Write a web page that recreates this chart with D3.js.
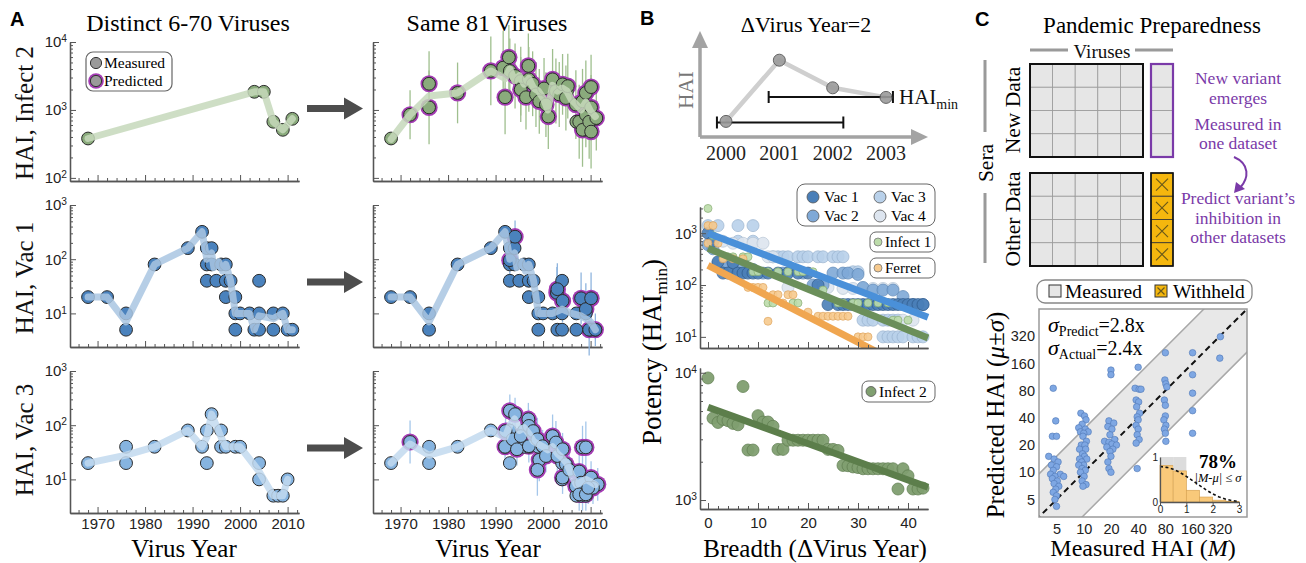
<!DOCTYPE html>
<html>
<head>
<meta charset="utf-8">
<script src="https://cdn.jsdelivr.net/npm/d3@7"></script>
<style>
  body { margin: 0; background: #fff; }
</style>
</head>
<body>
<svg id="fig" width="1306" height="563"></svg>
<script>
const SERIF = "'Liberation Serif', 'Times New Roman', serif";
const SANS = "'Liberation Sans', Arial, sans-serif";
const PURPLE = '#a43cb4';

// ---------------- panel A data: [virus year, HAI] ----------------
const yearTicks = [1970, 1980, 1990, 2000, 2010];

const infect2Distinct = [[1968,380],[2003,1850],[2005,1850],[2007,670],[2009,510],[2011,740]];
// predicted: [year, HAI, error factor]
const infect2Pred = [[1972,850,2.3],[1976,2430,3],[1976,1090,3.5],[1982,1780,2.8],[1989,3750,3.2],[1991.6,4190,3.5],
  [1992,1540,3.5],[1992.8,5940,3],[1993,3750,3],[1994.1,3160,3],[1995.3,2660,3.2],[1995.3,2000,3],[1996.4,1540,3],
  [1996.9,4450,3],[1997,2820,3],[1997.8,2430,3],[1998.5,1690,3],[1999.2,1340,3],[2000.2,2070,2.8],[2000.6,1200,3],
  [2001.1,800,3],[2002,2820,2.8],[2002.7,1900,3],[2003.4,1690,3],[2004.1,2380,2.8],[2004.8,1500,3],[2005.2,2240,3],
  [2006.9,1200,3.2],[2007.6,670,3.5],[2008.3,1340,3],[2008.3,510,3.5],[2009,1780,3],[2009,850,3],[2009.7,670,3.5],
  [2010.1,2170,3],[2010.1,1090,3],[2010.1,480,3.5],[2011.2,760,3]];
const infect2SameLine = [[1968,370],[1972,850],[1976,1600],[1982,1780],[1989,3750],[1992,2900],[1993,4000],[1994,2700],
  [1995,3200],[1996,2400],[1997,2900],[1998,2100],[1999,1900],[2000,1500],[2001,1000],[2002,2300],[2003,1900],[2004,2100],
  [2005,1900],[2006,1400],[2007,1200],[2008,1000],[2009,1300],[2010,950],[2011,800]];

const vac1Distinct = [[1968,20],[1972,20],[1976,10],[1976,5],[1982,80],[1989,160],[1992,320],[1993,160],[1994,160],
  [1993,80],[1994,80],[1996,80],[1997,80],[1993,40],[1995,40],[1997,40],[1998,40],[1997,20],[1999,20],[1999,10],
  [2000,10],[1999,5],[2002,10],[2003,5],[2004,10],[2004,40],[2004,5],[2007,10],[2007,5],[2009,10],[2010,5],[2011,5]];
const vac1DistinctLine = [[1968,20],[1972,20],[1976,7],[1982,80],[1989,160],[1992,320],[1993,100],[1994,130],[1994.5,70],
  [1995.5,90],[1996.3,60],[1997,80],[1998,40],[1999,10],[2000,10],[2002,10],[2003,5],[2004,9],[2007,8],[2009,10],[2010,5],[2011,5]];
const vac1Pred = [[1993,96,2],[1994.1,260,2],[2002.9,24,3],[2003,28,3],[2004.1,17,2.5],[2008,19,3],[2009,12,3],
  [2009.7,5,3],[2010.1,19,3],[2011,5,2]];
const vac1SameLine = [[1968,20],[1972,20],[1976,7],[1982,80],[1989,160],[1992,320],[1993,100],[1994,130],[1994.5,70],
  [1995.5,90],[1996.3,60],[1997,80],[1998,40],[1999,10],[2000,10],[2002,10],[2004,12],[2006,10],[2008,9],[2010,7],[2011,5]];

const vac3Distinct = [[1968,20],[1976,40],[1976,20],[1982,40],[1989,80],[1992,40],[1993,80],[1993,20],[1994,160],
  [1996,80],[1996,40],[1997,40],[1999,40],[2000,40],[2004,20],[2004,10],[2007,5],[2008,5],[2009,5],[2010,10]];
const vac3DistinctLine = [[1968,20],[1976,28],[1982,40],[1989,80],[1992,40],[1993,60],[1994,160],[1996,60],[1997,40],
  [2000,40],[2004,14],[2007,5],[2009,5],[2010,10]];
const vac3Pred = [[1972,49,2.5],[1992.1,78,2],[1993,184,2],[1994.1,160,2],[1992,40,2],[1993.6,55,2],[1994.5,36,2],
  [1995.3,63,2],[1996.9,129,2],[1997,97,2],[1997.9,78,2],[1997,41,2],[1998.8,55,2.5],[1999.2,23,2.5],[1998.8,15,3],
  [1999.9,41,2],[2000.6,27,2],[2002,63,2.5],[2002.7,48,2.5],[2003,27,2.5],[2004.1,36,2],[2004.1,10.8,2],[2004.8,19,2],
  [2005.5,15,2],[2006.9,7.5,2],[2007.6,14,2],[2008.3,39,2.5],[2009,39,3],[2008,8.7,2],[2008.3,5.3,2],[2007.6,5.3,2],
  [2009,5.3,2],[2010.1,10.8,2],[2011.5,8.1,2],[2010.5,7,2],[2009.5,7,2]];
const vac3SameLine = [[1968,20],[1972,45],[1976,28],[1982,40],[1989,80],[1992,60],[1993,100],[1994,130],[1995,80],
  [1996,90],[1997,70],[1998,50],[2000,40],[2001,35],[2002,40],[2003,30],[2004,25],[2005,20],[2006,12],[2007,8],
  [2009,10],[2010,9],[2011,8]];

// ---------------- panel B data: [ΔVirus Year, HAImin] ----------------
const schematicYears = [2000, 2001, 2002, 2003];
const schematicHAI = [0.8, 5.9, 3.6, 2.8];
const schematicWindows = [[1999.83, 2002.2, 0.7], [2000.8, 2003.13, 2.83]];

const vac1B = [[0,1000],[1,700],[2,280],[3,170],[4,170],[5,270],[6,170],[7,170],[8,170],[9,170],[10,170],[12,170],[14,170],
  [16,170],[18,170],[20,170],[22,100],[24,42],[26,42],[27,42],[28,42],[29,42],[30,42],[31,42],[32,42],[33,42],[34,42],
  [35,42],[36,42],[37,42],[38,42],[39,42],[40,42],[41,42],[42,42],[43,42]];
const vac2B = [[0,600],[1,500],[2,260],[3,260],[4,260],[5,200],[7,260],[9,200],[11,170],[15,170],[19,170],[21,100],[23,100],
  [25,170],[27,170],[28,170],[30,160],[31,90],[33,80],[35,80],[37,80],[39,60],[41,42],[43,42]];
const vac3B = [[0,1400],[2,1400],[6,1400],[9,1400],[6,700],[9,700],[13,350],[14,350],[15,350],[16,350],[18,350],[19,350],
  [20,350],[22,350],[23,350],[25,350],[26,350],[27,350],[29,180],[30,180],[31,21],[32,21],[33,21],[35,21],[36,21],[37,21],
  [38,21],[35,10],[36,10],[37,10],[38,10],[39,10],[41,10],[42,10],[43,10]];
const vac4B = [[1,700],[3,700],[5,640],[7,640],[9,640],[11,640],[12,350],[13,350],[16,90],[21,90],[24,90],[27,86],[29,86],
  [31,86],[33,86],[35,86],[37,86],[39,21],[41,21]];
const infect1B = [[0,3000],[1,900],[3,350],[4,350],[5,350],[7,350],[8,350],[9,180],[10,180],[12,180],[14,180],[16,180],
  [18,180],[19,180],[21,180],[12,45],[13,45],[17,45],[18,45],[23,80],[26,45],[27,45],[29,45],[30,45],[32,45],[34,45],
  [36,45],[37,21],[38,21],[40,21]];
const ferretB = [[0,1400],[1,1400],[0,640],[2,640],[3,320],[5,320],[7,320],[8,90],[9,90],[10,90],[11,90],[13,65],[14,65],
  [16,65],[17,65],[12,20],[15,45],[20,30],[22,25],[23,25],[24,25],[25,25],[26,25],[27,25],[28,25],[30,10],[31,10],[32,10]];
const infect2B = [[0,9100],[1,4400],[2,4070],[3,4300],[4,4200],[5,4000],[6,3900],[7,7800],[8,2470],[9,2470],[10,4600],
  [11,4100],[12,4100],[13,3800],[14,2500],[15,2500],[16,2950],[17,2950],[18,2950],[19,2950],[20,2950],[21,2950],[22,2950],
  [23,2950],[24,2500],[25,2500],[26,2450],[27,1870],[28,1860],[29,1820],[30,1800],[31,1760],[32,1760],[33,1760],[34,1760],
  [35,1760],[36,1760],[37,1760],[38,1220],[39,1760],[40,1550],[41,1220],[42,1220],[43,1240]];
// regression fits: [Δ start, HAI start, Δ end, HAI end]
const fitVac = [0, 1000, 44, 24];
const fitInfect1 = [0, 510, 44, 9.5];
const fitFerret = [0, 240, 44, 1.6];
const fitInfect2 = [0, 5360, 44, 1260];

// ---------------- panel C data ----------------
const hai2fold = [5, 10, 20, 40, 80, 160, 320];
const cScatter = [
  [4.6,85],[4.9,37],[4.5,25],[5.0,25],[4.1,15],[4.7,14],[5.2,13],[4.4,12],[5.0,11.5],[4.6,10.5],[5.5,9.5],[4.3,9.5],
  [4.8,9],[6.0,9],[4.5,8.5],[5.1,8],[4.7,7.5],[5.3,7],[4.9,6.5],[4.6,6],[5.0,5.5],[4.8,5],[5.0,4.2],
  [9.3,45],[10.2,42],[10.6,38],[9.6,34],[8.8,31],[10.4,30],[9.2,28],[11.2,28],[10.0,27],[9.8,25],[10.7,22],[9.4,20],
  [10.3,20],[9.0,18],[10.5,18],[9.7,16],[10.2,15],[9.0,14],[10.8,14],[9.5,13],[10.0,12],[8.8,12],[9.6,11],[10.4,10.5],
  [9.2,10],[10.1,9],[9.6,8],[10.6,7.3],[9.8,7],
  [20,135],[20,120],[19,37],[21.5,35],[18.5,32],[20.5,30],[19.5,26],[22,23],[17,22],[19,21.5],[20.5,20.5],[23,20],
  [18,19],[21,18],[19.5,17],[20,15],[18.5,13],[19,11],[20,10],
  [40,145],[37,85],[41,83],[43,83],[38,63],[40.5,60],[38.5,53],[41.5,45],[39,41],[40,38],[38,33],[40,30],[39,26],
  [41,23],[38,21],[39,11],
  [80,210],[79,105],[81,95],[83,88],[78,63],[80,55],[80,42],[77,38],[81,33],[78,30],[80,27],[81,22],
  [160,210],[160,120],[160,75],[160,48],[160,27],[325,316],[320,183]];
const bandFactor = 3;
const histEdges = [0, 0.5, 1, 1.5, 2, 2.5, 3];
const histWithin = [1, 1, 0, 0, 0, 0];
const histFrac = [0.81, 0.69, 0.26, 0.11, 0.04, 0.01];
const curveX = [0, 0.25, 0.5, 0.75, 1, 1.25, 1.5, 1.75, 2, 2.25, 2.5, 2.75, 3];
const curveY = [0.79, 0.77, 0.73, 0.66, 0.57, 0.47, 0.37, 0.27, 0.18, 0.11, 0.06, 0.03, 0.01];

// ---------------- helpers ----------------
const svg = d3.select('#fig');

function styleAxis(sel, size) {
  sel.attr('font-family', SANS).attr('font-size', size || 15);
  sel.selectAll('.domain').attr('stroke', '#555').attr('stroke-width', 1.3);
  sel.selectAll('.tick line').attr('stroke', '#555').attr('stroke-width', 1);
  sel.selectAll('.tick text').attr('fill', '#222');
}
function supLabels(sel) {
  sel.selectAll('.tick text').each(function (d) {
    const t = d3.select(this);
    t.text(null);
    t.append('tspan').text('10');
    t.append('tspan').attr('dy', '-0.5em').attr('font-size', '0.68em').text(Math.round(Math.log10(d)));
  });
}
const isDecade = v => Math.abs(Math.log10(v) - Math.round(Math.log10(v))) < 1e-9;

function logYAxis(g, y, xPos, majors, minFrom, labels) {
  const minor = y.ticks().filter(v => v >= minFrom && !isDecade(v));
  g.append('g').attr('transform', `translate(${xPos},0)`)
    .call(d3.axisLeft(y).tickValues(minor).tickSize(-3).tickSizeOuter(0).tickFormat(''))
    .call(styleAxis);
  const a = g.append('g').attr('transform', `translate(${xPos},0)`)
    .call(d3.axisLeft(y).tickValues(majors).tickSize(-6).tickSizeOuter(0).tickPadding(3))
    .call(styleAxis);
  if (labels) supLabels(a); else a.selectAll('.tick text').remove();
}

function circle(g, cx, cy, r, fill, stroke, purple) {
  if (purple) g.append('circle').attr('cx', cx).attr('cy', cy).attr('r', r + 2.2).attr('fill', PURPLE);
  g.append('circle').attr('cx', cx).attr('cy', cy).attr('r', r).attr('fill', fill).attr('stroke', stroke || '#2b2b2b').attr('stroke-width', 1);
}

// ---------------- panel A ----------------
function drawA(p) {
  const x = d3.scaleLinear().domain([1964.2, 2012.4]).range([p.left, p.left + 229]);
  const y = d3.scaleLog().domain(p.yDomain).range([p.bottom, p.top]);
  const g = svg.append('g');
  logYAxis(g, y, p.left, p.yMajor, p.yMajor[0], p.yLabels);
  g.append('g').attr('transform', `translate(0,${p.bottom})`)
    .call(d3.axisBottom(x).tickValues(d3.range(1966, 2013, 2).filter(v => v % 10)).tickSize(-3).tickSizeOuter(0).tickFormat(''))
    .call(styleAxis);
  const xa = g.append('g').attr('transform', `translate(0,${p.bottom})`)
    .call(d3.axisBottom(x).tickValues(yearTicks).tickSize(-6).tickSizeOuter(0).tickPadding(5).tickFormat(d3.format('d')))
    .call(styleAxis);
  if (!p.xLabels) xa.selectAll('.tick text').remove();

  const pred = p.pred || [];
  // error bars
  g.selectAll(null).data(pred).join('line')
    .attr('x1', d => x(d[0])).attr('x2', d => x(d[0]))
    .attr('y1', d => y(d[1] * d[2])).attr('y2', d => y(d[1] / d[2]))
    .attr('stroke', p.errColor).attr('stroke-width', 1.3);
  // purple rings first, so clusters merge
  g.selectAll(null).data(pred).join('circle')
    .attr('cx', d => x(d[0])).attr('cy', d => y(d[1])).attr('r', 8.6).attr('fill', PURPLE);
  g.selectAll(null).data(p.measured.concat(pred)).join('circle')
    .attr('cx', d => x(d[0])).attr('cy', d => y(d[1])).attr('r', 6.4)
    .attr('fill', p.color).attr('stroke', '#2b2b2b').attr('stroke-width', 1);
  g.append('path').datum(p.line)
    .attr('d', d3.line().x(d => x(d[0])).y(d => y(d[1])))
    .attr('fill', 'none').attr('stroke', p.lineColor).attr('stroke-width', 7)
    .attr('stroke-linejoin', 'round').attr('stroke-linecap', 'round').attr('opacity', 0.85);
}

const rowsA = [
  { yDomain: [90, 10000], bottom: 181, top: 42, yMajor: [100, 1000, 10000], color: '#8aab7c', lineColor: '#c6d8bb', errColor: '#9fbf8e',
    distinct: infect2Distinct, distinctLine: infect2Distinct, pred: infect2Pred, sameLine: infect2SameLine, label: 'HAI, Infect 2', cy: 113 },
  { yDomain: [2.4, 1000], bottom: 347, top: 205, yMajor: [10, 100, 1000], color: '#4a82bd', lineColor: '#a9c6e2', errColor: '#8fb5de',
    distinct: vac1Distinct, distinctLine: vac1DistinctLine, pred: vac1Pred, sameLine: vac1SameLine, label: 'HAI, Vac 1', cy: 278 },
  { yDomain: [2.4, 1000], bottom: 513, top: 371, yMajor: [10, 100, 1000], color: '#86b4e0', lineColor: '#c2d9ef', errColor: '#a5c7ea',
    distinct: vac3Distinct, distinctLine: vac3DistinctLine, pred: vac3Pred, sameLine: vac3SameLine, label: 'HAI, Vac 3', cy: 440 }
];
rowsA.forEach((r, i) => {
  const last = i === rowsA.length - 1;
  drawA({ left: 70, top: r.top, bottom: r.bottom, yDomain: r.yDomain, yMajor: r.yMajor, yLabels: true, xLabels: last,
    color: r.color, lineColor: r.lineColor, errColor: r.errColor, measured: r.distinct, line: r.distinctLine });
  drawA({ left: 373, top: r.top, bottom: r.bottom, yDomain: r.yDomain, yMajor: r.yMajor, yLabels: false, xLabels: last,
    color: r.color, lineColor: r.lineColor, errColor: r.errColor, measured: r.distinct, pred: r.pred, line: r.sameLine });
  svg.append('text').attr('transform', `translate(33,${r.cy}) rotate(-90)`).attr('text-anchor', 'middle')
    .attr('font-family', SERIF).attr('font-size', 25).attr('fill', '#111').text(r.label);
  const ay = (r.top + r.bottom) / 2 + (i === 0 ? -3 : 6);
  svg.append('path').attr('d', `M307,${ay - 3.5}H344V${ay - 11}L363,${ay}L344,${ay + 11}V${ay + 3.5}H307Z`).attr('fill', '#4d4d4d');
});

// titles and legend
svg.append('text').attr('x', 10).attr('y', 26).attr('font-family', SANS).attr('font-weight', 'bold').attr('font-size', 20).text('A');
svg.append('text').attr('x', 188).attr('y', 31).attr('text-anchor', 'middle').attr('font-family', SERIF).attr('font-size', 24).text('Distinct 6-70 Viruses');
svg.append('text').attr('x', 487).attr('y', 31).attr('text-anchor', 'middle').attr('font-family', SERIF).attr('font-size', 24).text('Same 81 Viruses');
['Virus Year', 'Virus Year'].forEach((t, i) => svg.append('text').attr('x', [184, 488][i]).attr('y', 557)
  .attr('text-anchor', 'middle').attr('font-family', SERIF).attr('font-size', 25).text(t));
{
  const lg = svg.append('g');
  lg.append('rect').attr('x', 86).attr('y', 52).attr('width', 86).attr('height', 39).attr('rx', 7)
    .attr('fill', '#fff').attr('stroke', '#666').attr('stroke-width', 1.2);
  circle(lg, 96, 63, 5.6, '#9a9a9a', '#333', false);
  circle(lg, 96, 81, 5.6, '#9a9a9a', '#333', true);
  lg.append('text').attr('x', 104).attr('y', 68).attr('font-family', SERIF).attr('font-size', 15.5).text('Measured');
  lg.append('text').attr('x', 104).attr('y', 86).attr('font-family', SERIF).attr('font-size', 15.5).text('Predicted');
}

// ---------------- panel B ----------------
svg.append('text').attr('x', 640).attr('y', 25).attr('font-family', SANS).attr('font-weight', 'bold').attr('font-size', 20).text('B');
svg.append('text').attr('x', 806).attr('y', 32).attr('text-anchor', 'middle').attr('font-family', SERIF).attr('font-size', 22).text('\u0394Virus Year=2');
{
  const g = svg.append('g');
  const sx = d3.scaleLinear().domain([2000, 2003]).range([726, 886]);
  const sy = d3.scaleLinear().domain([0, 8]).range([131, 35]);
  g.append('path').attr('d', 'M700,137V46M700,137H914').attr('stroke', '#a3a3a3').attr('stroke-width', 3.5).attr('fill', 'none');
  g.append('path').attr('d', 'M692,48L700,31L708,48Z').attr('fill', '#a3a3a3');
  g.append('path').attr('d', 'M911,129L928,137L911,145Z').attr('fill', '#a3a3a3');
  g.append('text').attr('transform', 'translate(693,90) rotate(-90)').attr('text-anchor', 'middle')
    .attr('font-family', SERIF).attr('font-size', 21).attr('fill', '#777').text('HAI');
  g.selectAll(null).data(schematicYears).join('text').attr('x', d => sx(d)).attr('y', 160).attr('text-anchor', 'middle')
    .attr('font-family', SERIF).attr('font-size', 20).attr('fill', '#222').text(d => d);
  const pts = schematicYears.map((yr, i) => [yr, schematicHAI[i]]);
  g.append('path').datum(pts).attr('d', d3.line().x(d => sx(d[0])).y(d => sy(d[1])))
    .attr('fill', 'none').attr('stroke', '#cfcfcf').attr('stroke-width', 4.5).attr('stroke-linejoin', 'round');
  schematicWindows.forEach(w => {
    const yy = sy(w[2]);
    g.append('path').attr('d', `M${sx(w[0])},${yy}H${sx(w[1])}M${sx(w[0])},${yy - 6}V${yy + 6}M${sx(w[1])},${yy - 6}V${yy + 6}`)
      .attr('stroke', '#111').attr('stroke-width', 2).attr('fill', 'none');
  });
  g.selectAll(null).data(pts).join('circle').attr('cx', d => sx(d[0])).attr('cy', d => sy(d[1])).attr('r', 6)
    .attr('fill', '#9b9b9b').attr('stroke', '#555').attr('stroke-width', 1).attr('opacity', 0.9);
  const t = g.append('text').attr('x', 899).attr('y', 104).attr('font-family', SERIF).attr('font-size', 21).attr('fill', '#111');
  t.append('tspan').text('HAI');
  t.append('tspan').attr('dy', 5).attr('font-size', 14).text('min');
}

const bx = d3.scaleLinear().domain([-1.6, 44]).range([700, 928]);
function bXAxis(g, yPos, labels) {
  g.append('g').attr('transform', `translate(0,${yPos})`)
    .call(d3.axisBottom(bx).tickValues(d3.range(2, 44, 2).filter(v => v % 10)).tickSize(-3).tickSizeOuter(0).tickFormat(''))
    .call(styleAxis);
  const a = g.append('g').attr('transform', `translate(0,${yPos})`)
    .call(d3.axisBottom(bx).tickValues([0, 10, 20, 30, 40]).tickSize(-6).tickSizeOuter(0).tickPadding(8))
    .call(styleAxis);
  if (!labels) a.selectAll('.tick text').remove();
}
function fitLine(g, x, y, f, color) {
  g.append('line').attr('x1', x(f[0])).attr('y1', y(f[1])).attr('x2', x(f[2])).attr('y2', y(f[3]))
    .attr('stroke', color).attr('stroke-width', 7).attr('clip-path', 'url(#clipB1)');
}
{
  const y = d3.scaleLog().domain([6.1, 3200]).range([348, 207]);
  const g = svg.append('g');
  svg.append('clipPath').attr('id', 'clipB1').append('rect').attr('x', 700).attr('y', 200).attr('width', 232).attr('height', 148);
  const series = [
    [vac3B, '#b9d1ea', '#98b2cf', 6], [vac4B, '#dde5ef', '#b9c6d5', 6], [vac2B, '#7fa9d7', '#5c86b5', 6],
    [vac1B, '#4a7fb8', '#2f5b8c', 6], [infect1B, '#bcdcaa', '#86ad72', 4], [ferretB, '#f7ca8e', '#e0a55c', 4]];
  series.forEach(s => g.selectAll(null).data(s[0]).join('circle')
    .attr('cx', d => bx(d[0])).attr('cy', d => y(d[1])).attr('r', s[3])
    .attr('fill', s[1]).attr('stroke', s[2]).attr('stroke-width', 0.8).attr('opacity', 0.9));
  fitLine(g, bx, y, fitVac, '#4a90d9');
  fitLine(g, bx, y, fitInfect1, '#6b8f5a');
  fitLine(g, bx, y, fitFerret, '#f0a650');
  logYAxis(g, y, 700, [10, 100, 1000], 10, true);
  bXAxis(g, 348, false);
  // legends
  g.append('rect').attr('x', 797).attr('y', 184).attr('width', 138).attr('height', 42).attr('rx', 8).attr('fill', '#fff').attr('stroke', '#666');
  [['Vac 1', '#4a7fb8', 813, 197], ['Vac 3', '#b9d1ea', 880, 197], ['Vac 2', '#7fa9d7', 813, 216], ['Vac 4', '#dde5ef', 880, 216]].forEach(l => {
    g.append('circle').attr('cx', l[2]).attr('cy', l[3]).attr('r', 6).attr('fill', l[1]).attr('stroke', '#555').attr('stroke-width', 0.8);
    g.append('text').attr('x', l[2] + 11).attr('y', l[3] + 5).attr('font-family', SERIF).attr('font-size', 15.5).text(l[0]);
  });
  [['Infect 1', '#bcdcaa', 232], ['Ferret', '#f7ca8e', 258]].forEach(l => {
    g.append('rect').attr('x', 870).attr('y', l[2]).attr('width', 65).attr('height', 20).attr('rx', 6).attr('fill', '#fff').attr('stroke', '#666');
    g.append('circle').attr('cx', 878).attr('cy', l[2] + 10).attr('r', 4).attr('fill', l[1]).attr('stroke', '#777').attr('stroke-width', 0.8);
    g.append('text').attr('x', 885).attr('y', l[2] + 15).attr('font-family', SERIF).attr('font-size', 15).text(l[0]);
  });
}
{
  const y = d3.scaleLog().domain([850, 10900]).range([509, 368]);
  const g = svg.append('g');
  g.selectAll(null).data(infect2B).join('circle').attr('cx', d => bx(d[0])).attr('cy', d => y(d[1])).attr('r', 6)
    .attr('fill', '#809f70').attr('stroke', '#617f52').attr('stroke-width', 0.8).attr('opacity', 0.95);
  g.append('line').attr('x1', bx(fitInfect2[0])).attr('y1', y(fitInfect2[1])).attr('x2', bx(fitInfect2[2])).attr('y2', y(fitInfect2[3]))
    .attr('stroke', '#5c7e4b').attr('stroke-width', 7);
  logYAxis(g, y, 700, [1000, 10000], 1000, true);
  bXAxis(g, 509, true);
  g.append('rect').attr('x', 862).attr('y', 381).attr('width', 73).attr('height', 21).attr('rx', 6).attr('fill', '#fff').attr('stroke', '#666');
  g.append('circle').attr('cx', 871).attr('cy', 391.5).attr('r', 5).attr('fill', '#809f70').attr('stroke', '#555').attr('stroke-width', 0.8);
  g.append('text').attr('x', 879).attr('y', 397).attr('font-family', SERIF).attr('font-size', 15.5).text('Infect 2');
}
{
  const t = svg.append('text').attr('transform', 'translate(661,352) rotate(-90)').attr('text-anchor', 'middle')
    .attr('font-family', SERIF).attr('font-size', 27);
  t.append('tspan').text('Potency (HAI');
  t.append('tspan').attr('dy', 6).attr('font-size', 17).text('min');
  t.append('tspan').attr('dy', -6).text(')');
  svg.append('text').attr('x', 815).attr('y', 557).attr('text-anchor', 'middle').attr('font-family', SERIF).attr('font-size', 25)
    .text('Breadth (\u0394Virus Year)');
}

// ---------------- panel C ----------------
svg.append('text').attr('x', 975).attr('y', 26).attr('font-family', SANS).attr('font-weight', 'bold').attr('font-size', 20).text('C');
svg.append('text').attr('x', 1152).attr('y', 33).attr('text-anchor', 'middle').attr('font-family', SERIF).attr('font-size', 23).text('Pandemic Preparedness');
{
  const g = svg.append('g');
  const serif = (x, y, s, txt, fill) => g.append('text').attr('x', x).attr('y', y).attr('text-anchor', 'middle')
    .attr('font-family', SERIF).attr('font-size', s).attr('fill', fill || '#111').text(txt);
  g.append('path').attr('d', 'M1030,50H1068M1135,50H1173M985,60V132M985,193V263').attr('stroke', '#9a9a9a').attr('stroke-width', 3);
  serif(1102, 58, 19, 'Viruses');
  [['Sera', 993, 163], ['New Data', 1020, 110], ['Other Data', 1020, 219]].forEach(l =>
    g.append('text').attr('transform', `translate(${l[1]},${l[2]}) rotate(-90)`).attr('text-anchor', 'middle')
      .attr('font-family', SERIF).attr('font-size', 21.5).text(l[0]));
  const grid = (x0, y0, cols, w, h, fill, line) => {
    d3.range(cols).forEach(c => d3.range(4).forEach(r => g.append('rect')
      .attr('x', x0 + c * w).attr('y', y0 + r * h).attr('width', w).attr('height', h)
      .attr('fill', fill).attr('stroke', line).attr('stroke-width', 0.8)));
  };
  grid(1030, 64, 5, 22.6, 23.25, '#e6e6e6', '#9a9a9a');
  g.append('rect').attr('x', 1030).attr('y', 64).attr('width', 113).attr('height', 93).attr('fill', 'none').attr('stroke', '#111').attr('stroke-width', 2);
  grid(1151, 64, 1, 22, 23.25, '#e6e6e6', '#9a9a9a');
  g.append('rect').attr('x', 1151).attr('y', 64).attr('width', 22).attr('height', 93).attr('fill', 'none').attr('stroke', '#7a3aa8').attr('stroke-width', 2.2);
  grid(1030, 173, 5, 22.6, 23.25, '#e6e6e6', '#9a9a9a');
  g.append('rect').attr('x', 1030).attr('y', 173).attr('width', 113).attr('height', 93).attr('fill', 'none').attr('stroke', '#111').attr('stroke-width', 2);
  grid(1151, 173, 1, 22, 23.25, '#f5b70e', '#333');
  d3.range(4).forEach(r => {
    const cx = 1162, cy = 173 + r * 23.25 + 11.6;
    g.append('path').attr('d', `M${cx - 6},${cy - 6}L${cx + 6},${cy + 6}M${cx + 6},${cy - 6}L${cx - 6},${cy + 6}`).attr('stroke', '#6b5a1a').attr('stroke-width', 1.2);
  });
  g.append('rect').attr('x', 1151).attr('y', 173).attr('width', 22).attr('height', 93).attr('fill', 'none').attr('stroke', '#111').attr('stroke-width', 1.6);
  const pc = '#7a3aa8';
  [['New variant', 84], ['emerges', 103.5], ['Measured in', 129.5], ['one dataset', 149],
   ["Predict variant\u2019s", 204], ['inhibition in', 223.5], ['other datasets', 243]].forEach(l => serif(1238, l[1], 17.5, l[0], pc));
  g.append('path').attr('d', 'M1234,157C1250,164 1249,178 1240,188').attr('fill', 'none').attr('stroke', pc).attr('stroke-width', 2);
  g.append('path').attr('d', 'M1234,193L1236,182L1245,189Z').attr('fill', pc);

  // legend
  g.append('rect').attr('x', 1037).attr('y', 280).attr('width', 215).attr('height', 23).attr('rx', 8).attr('fill', '#fff').attr('stroke', '#888').attr('stroke-width', 1.3);
  g.append('rect').attr('x', 1049).attr('y', 285).attr('width', 12).attr('height', 12).attr('fill', '#e6e6e6').attr('stroke', '#333');
  g.append('text').attr('x', 1065).attr('y', 298).attr('font-family', SERIF).attr('font-size', 19.5).text('Measured');
  g.append('rect').attr('x', 1155).attr('y', 285).attr('width', 12).attr('height', 12).attr('fill', '#f5b70e').attr('stroke', '#333');
  g.append('path').attr('d', 'M1157.5,287.5L1164.5,294.5M1164.5,287.5L1157.5,294.5').attr('stroke', '#6b5a1a').attr('stroke-width', 1.2);
  g.append('text').attr('x', 1173).attr('y', 298).attr('font-family', SERIF).attr('font-size', 19.5).text('Withheld');

  // scatter
  const x = d3.scaleLog().base(2).domain([3.2, 640]).range([1039, 1247]);
  const y = d3.scaleLog().base(2).domain([3.2, 640]).range([517, 309]);
  svg.append('clipPath').attr('id', 'clipC').append('rect').attr('x', 1039).attr('y', 309).attr('width', 208).attr('height', 208);
  const lo = 1, hi = 2000;
  const band = [[lo, lo * bandFactor], [hi, hi * bandFactor], [hi, hi / bandFactor], [lo, lo / bandFactor]];
  const gc = g.append('g').attr('clip-path', 'url(#clipC)');
  gc.append('path').attr('d', 'M' + band.map(d => [x(d[0]), y(d[1])].join(',')).join('L') + 'Z').attr('fill', '#e8e8e8');
  [[band[0], band[1]], [band[3], band[2]]].forEach(s => gc.append('line')
    .attr('x1', x(s[0][0])).attr('y1', y(s[0][1])).attr('x2', x(s[1][0])).attr('y2', y(s[1][1])).attr('stroke', '#a8a8a8').attr('stroke-width', 1.5));
  gc.append('line').attr('x1', x(lo)).attr('y1', y(lo)).attr('x2', x(hi)).attr('y2', y(hi))
    .attr('stroke', '#111').attr('stroke-width', 2).attr('stroke-dasharray', '6,4');
  gc.selectAll(null).data(cScatter).join('circle').attr('cx', d => x(d[0])).attr('cy', d => y(d[1])).attr('r', 3.3)
    .attr('fill', '#7ea7e3').attr('stroke', '#4f77b5').attr('stroke-width', 0.6);
  g.append('rect').attr('x', 1039).attr('y', 309).attr('width', 208).attr('height', 208).attr('fill', 'none').attr('stroke', '#9a9a9a').attr('stroke-width', 1.5);
  g.append('g').attr('transform', 'translate(0,517)').call(d3.axisBottom(x).tickValues(hai2fold).tickSize(0).tickPadding(7).tickFormat(d3.format('d')))
    .call(s => styleAxis(s, 14.5)).select('.domain').remove();
  g.append('g').attr('transform', 'translate(1039,0)').call(d3.axisLeft(y).tickValues(hai2fold).tickSize(0).tickPadding(4).tickFormat(d3.format('d')))
    .call(s => styleAxis(s, 14.5)).select('.domain').remove();

  const sig = (yy, sub, val) => {
    const t = g.append('text').attr('x', 1048).attr('y', yy).attr('font-family', SERIF).attr('font-size', 20);
    t.append('tspan').attr('font-style', 'italic').attr('font-size', 22).text('\u03c3');
    t.append('tspan').attr('dy', 4).attr('font-size', 14).text(sub);
    t.append('tspan').attr('dy', -4).text(val);
  };
  sig(332, 'Predict', '=2.8x');
  sig(355, 'Actual', '=2.4x');

  // inset histogram
  const ix = d3.scaleLinear().domain([0, 3]).range([1160, 1239]);
  const iy = d3.scaleLinear().domain([0, 1]).range([502, 457]);
  histFrac.forEach((f, i) => {
    if (histWithin[i]) g.append('rect').attr('x', ix(histEdges[i])).attr('y', iy(histWithin[i])).attr('width', ix(histEdges[i + 1]) - ix(histEdges[i]))
      .attr('height', iy(0) - iy(histWithin[i])).attr('fill', '#dcdcdc');
    g.append('rect').attr('x', ix(histEdges[i])).attr('y', iy(f)).attr('width', ix(histEdges[i + 1]) - ix(histEdges[i]))
      .attr('height', iy(0) - iy(f)).attr('fill', '#f9c97a').attr('stroke', '#d9a452').attr('stroke-width', 0.7);
  });
  g.append('path').datum(curveX.map((v, i) => [v, curveY[i]])).attr('d', d3.line().x(d => ix(d[0])).y(d => iy(d[1])))
    .attr('fill', 'none').attr('stroke', '#111').attr('stroke-width', 1.6).attr('stroke-dasharray', '3,2.5');
  g.append('g').attr('transform', 'translate(0,502)').call(d3.axisBottom(ix).tickValues([0, 1, 2, 3]).tickSize(3).tickSizeOuter(0).tickPadding(1).tickFormat(d3.format('d')))
    .call(s => styleAxis(s, 10));
  g.append('g').attr('transform', 'translate(1160,0)').call(d3.axisLeft(iy).tickValues([0, 1]).tickSize(0).tickPadding(2).tickFormat(d3.format('d')))
    .call(s => styleAxis(s, 10));
  g.append('text').attr('x', 1218).attr('y', 468).attr('text-anchor', 'middle').attr('font-family', SERIF).attr('font-weight', 'bold').attr('font-size', 19).text('78%');
  g.append('text').attr('x', 1218).attr('y', 482).attr('text-anchor', 'middle').attr('font-family', SERIF).attr('font-size', 12.5)
    .attr('font-style', 'italic').text('|M-\u03bc| \u2264 \u03c3');

  const yl = g.append('text').attr('transform', 'translate(1004,415) rotate(-90)').attr('text-anchor', 'middle')
    .attr('font-family', SERIF).attr('font-size', 25);
  yl.append('tspan').text('Predicted HAI (');
  yl.append('tspan').attr('font-style', 'italic').text('\u03bc\u00b1\u03c3');
  yl.append('tspan').text(')');
  const xl = g.append('text').attr('x', 1143).attr('y', 556).attr('text-anchor', 'middle').attr('font-family', SERIF).attr('font-size', 24);
  xl.append('tspan').text('Measured HAI (');
  xl.append('tspan').attr('font-style', 'italic').text('M');
  xl.append('tspan').text(')');
}
</script>
</body>
</html>
